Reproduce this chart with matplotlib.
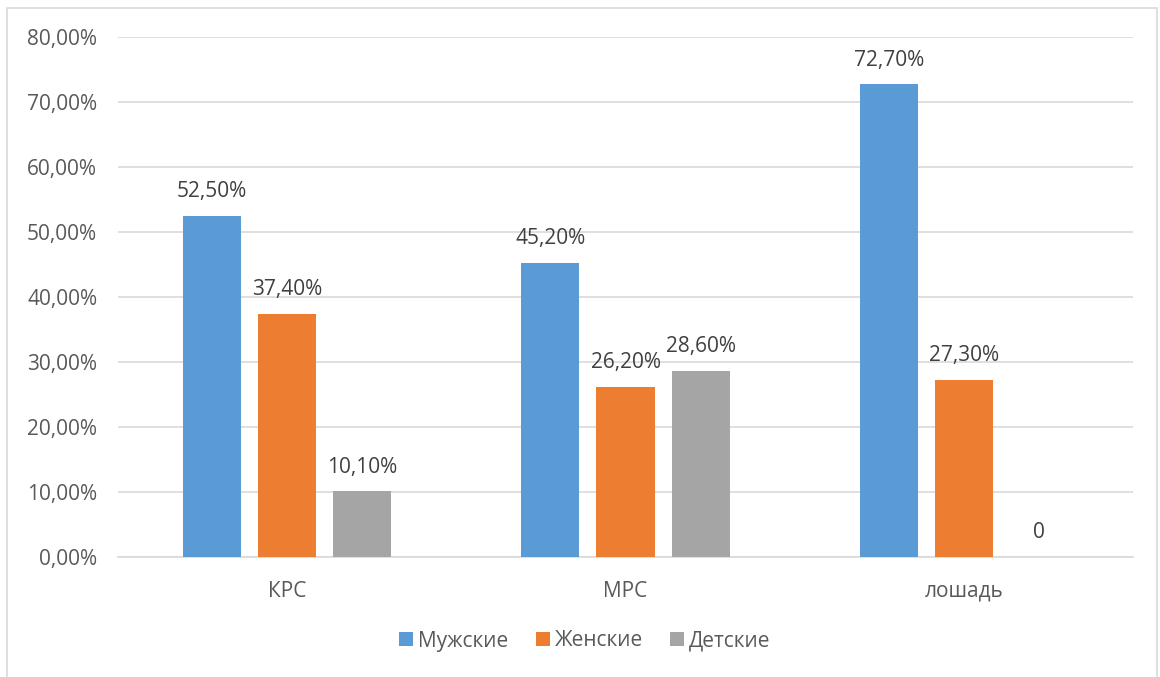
import matplotlib
matplotlib.use("Agg")
import matplotlib.pyplot as plt
import numpy as np

categories = ["КРС", "МРС", "лошадь"]
series_names = ["Мужские", "Женские", "Детские"]
male = [52.5, 45.2, 72.7]
female = [37.4, 26.2, 27.3]
child = [10.1, 28.6, 0.0]
labels_male = ["52,50%", "45,20%", "72,70%"]
labels_female = ["37,40%", "26,20%", "27,30%"]
labels_child = ["10,10%", "28,60%", "0"]
yticks = [0, 10, 20, 30, 40, 50, 60, 70, 80]
ytick_labels = ["0,00%", "10,00%", "20,00%", "30,00%", "40,00%", "50,00%", "60,00%", "70,00%", "80,00%"]
colors = ["#5B9BD5", "#ED7D31", "#A5A5A5"]

plt.rcParams['font.family'] = ['Open Sans', 'DejaVu Sans']
txt = "#595959"
fs = 15

fig = plt.figure(figsize=(11.6, 6.77), dpi=100)
ax = fig.add_axes([118/1160, 1-557/677, (1133-118)/1160, (557-37)/677])

x = np.arange(len(categories))
w = 0.172
off = 0.222
series = [male, female, child]
lbls = [labels_male, labels_female, labels_child]
for i, (vals, lab, c, nm) in enumerate(zip(series, lbls, colors, series_names)):
    xs = x + (i - 1) * off
    ax.bar(xs, vals, width=w, color=c, label=nm, zorder=3)
    for xi, v, l in zip(xs, vals, lab):
        ax.annotate(l, (xi, v), xytext=(0, 13.5), textcoords="offset points",
                    ha="center", va="baseline", fontsize=fs, color="#404040")

ax.set_xlim(-0.5, 2.5)
ax.set_ylim(0, 80)
ax.set_yticks(yticks)
ax.set_yticklabels(ytick_labels, fontsize=fs, color=txt)
ax.set_xticks(x)
ax.set_xticklabels(categories, fontsize=fs, color=txt)
ax.tick_params(axis="both", length=0)
ax.tick_params(axis="y", pad=15)
ax.tick_params(axis="x", pad=17)
ax.yaxis.grid(True, color="#D9D9D9", linewidth=1.2, zorder=0)
for s in ["top", "right", "left"]:
    ax.spines[s].set_visible(False)
ax.spines["bottom"].set_color("#D9D9D9")
ax.spines["bottom"].set_linewidth(1.2)

leg = fig.legend(loc="center", bbox_to_anchor=(585/1160, 1-641/677), ncol=3, frameon=False,
                 fontsize=fs, handlelength=0.67, handleheight=0.67, handletextpad=0.25, columnspacing=1.3)
for t in leg.get_texts():
    t.set_color(txt)

from matplotlib.patches import Rectangle
fig.patches.append(Rectangle((7/1160, -0.01), (1157-7)/1160, 1.01 - 8/677, transform=fig.transFigure,
                             fill=False, edgecolor="#D9D9D9", linewidth=1.2))

fig.savefig("out.png", dpi=100)
